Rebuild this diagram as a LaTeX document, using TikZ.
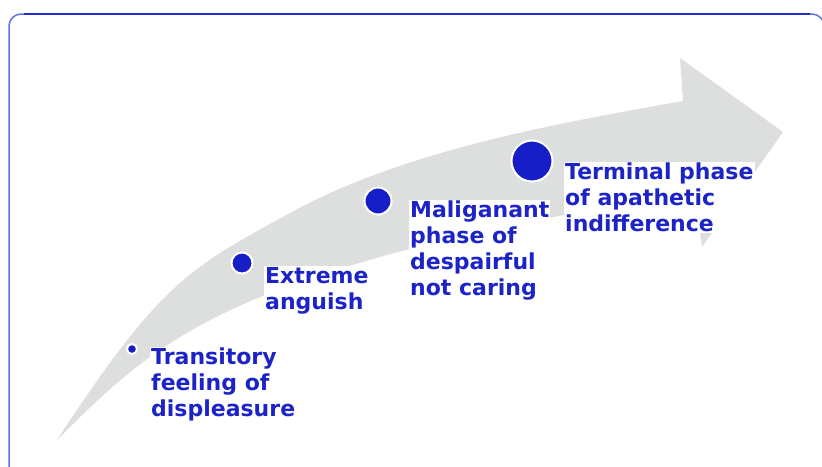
\documentclass[tikz,border=0pt]{standalone}
\usepackage{fontspec}
\newfontfamily\lblfont{DejaVu Sans}
\definecolor{txtblue}{RGB}{28,36,200}
\definecolor{dotblue}{RGB}{22,30,200}
\definecolor{bandgray}{RGB}{221,223,222}
\definecolor{frametop}{RGB}{30,45,205}
\definecolor{frameside}{RGB}{95,115,230}
\tikzset{
  lbl/.style={anchor=north west, align=left, fill=white, inner sep=1pt,
    text=txtblue, font={\lblfont\bfseries\fontsize{22}{26}\selectfont}},
  stagedot/.style={circle, fill=dotblue, draw=white, line width=2pt, inner sep=0pt}
}
\begin{document}
\begin{tikzpicture}[x=1pt,y=-1pt]
\useasboundingbox (0,0) rectangle (822,466);
\fill[white] (0,0) rectangle (822,466);

% frame
\draw[frameside, line width=1.5pt, rounded corners=12pt]
  (9,480) -- (9,14) -- (824,14) -- (824,480);
\draw[frametop, line width=2pt] (24,14) -- (810,14);

% curved rising arrow: upper edge, head, lower edge back to the tail
\fill[bandgray]
  (57,440) .. controls (161,281) and (190,268) .. (290,213)
           .. controls (403,151) and (553,124) .. (683,101)
  -- (680,58) -- (783,132) -- (702,247) -- (695,196)
           .. controls (580,208) and (420,240) .. (300,282)
           .. controls (170,327) and (117,380) .. (57,440)
  -- cycle;

% stages
\node[stagedot, minimum size=10pt] (d1) at (132,349) {};
\node[stagedot, minimum size=21pt] (d2) at (242,263) {};
\node[stagedot, minimum size=27pt] (d3) at (378,201) {};
\node[stagedot, minimum size=41pt] (d4) at (532,161) {};

\node[lbl] (t1) at (150,347) {Transitory\\feeling of\\displeasure};
\node[lbl] (t2) at (264,266) {Extreme\\anguish};
\node[lbl] (t3) at (409,200) {Maliganant\\phase of\\despairful\\not caring};
\node[lbl] (t4) at (564,162) {Terminal phase\\of apathetic\\indifference};
\end{tikzpicture}
\end{document}
